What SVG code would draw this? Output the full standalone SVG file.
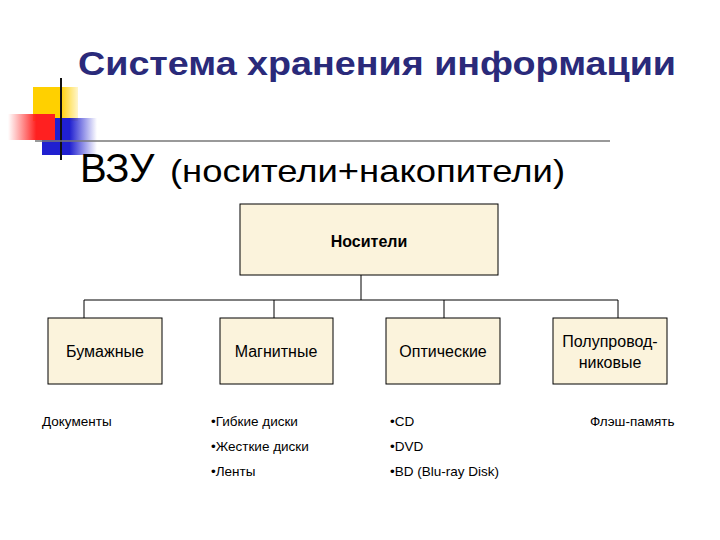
<svg xmlns="http://www.w3.org/2000/svg" width="720" height="540" viewBox="0 0 720 540">
<style>
.box{fill:#fbf3dc;stroke:#000;stroke-width:1}
.t{font-family:"Liberation Sans",Arial,sans-serif;font-size:16px;fill:#000;text-anchor:middle}
.s{font-family:"Liberation Sans",Arial,sans-serif;font-size:13.5px;fill:#000}
.c{stroke:#000;stroke-width:1;fill:none}
</style>
<defs>
<linearGradient id="rg" x1="0" x2="1"><stop offset="0" stop-color="#ff3030" stop-opacity="0"/><stop offset="0.6" stop-color="#ff2020"/></linearGradient>
<linearGradient id="bg" x1="0" x2="1"><stop offset="0.5" stop-color="#2020d0"/><stop offset="1" stop-color="#2020d0" stop-opacity="0"/></linearGradient>
<linearGradient id="yg" x1="0" x2="1"><stop offset="0.6" stop-color="#ffd000"/><stop offset="1" stop-color="#ffd000" stop-opacity="0.2"/></linearGradient>
</defs>
<rect width="720" height="540" fill="#fff"/>
<g id="deco">
<rect x="33" y="87" width="45" height="34" fill="url(#yg)"/>
<rect x="42" y="118" width="55" height="37" fill="url(#bg)"/>
<rect x="8" y="114" width="47" height="26" fill="url(#rg)"/>
<line x1="61" y1="78" x2="61" y2="160" stroke="#111" stroke-width="2"/>
<line x1="35" y1="141" x2="610" y2="141" stroke="#777" stroke-width="1.5"/>
</g>
<text x="78" y="75" font-family="Liberation Sans,Arial,sans-serif" font-weight="bold" font-size="33" fill="#2a2a7a" textLength="598" lengthAdjust="spacingAndGlyphs">Система хранения информации</text>
<text x="80" y="182" font-family="Liberation Sans,Arial,sans-serif" font-size="40" fill="#000">ВЗУ</text>
<text x="170" y="182" font-family="Liberation Sans,Arial,sans-serif" font-size="32" fill="#000" textLength="395" lengthAdjust="spacingAndGlyphs">(носители+накопители)</text>
<g id="connectors">
<path class="c" d="M361 275V300M84 300H618M84 300V318M274 300V318M444 300V318M618 300V318"/>
</g>
<g id="n0"><rect class="box" x="240" y="204" width="258" height="71"/><text class="t" x="369" y="247" font-weight="bold" font-size="18.5">Носители</text></g>
<g id="n1"><rect class="box" x="48" y="318" width="114" height="66"/><text class="t" x="105" y="357">Бумажные</text></g>
<g id="n2"><rect class="box" x="220" y="318" width="113" height="66"/><text class="t" x="276" y="357">Магнитные</text></g>
<g id="n3"><rect class="box" x="386" y="318" width="114" height="66"/><text class="t" x="443" y="357">Оптические</text></g>
<g id="n4"><rect class="box" x="553" y="318" width="114" height="66"/><text class="t" x="610" y="347">Полупровод-</text><text class="t" x="610" y="368">никовые</text></g>
<g id="lists">
<text class="s" x="42" y="426">Документы</text>
<text class="s" x="211" y="426">•Гибкие диски</text>
<text class="s" x="211" y="451">•Жесткие диски</text>
<text class="s" x="211" y="476">•Ленты</text>
<text class="s" x="390" y="426">•CD</text>
<text class="s" x="390" y="451">•DVD</text>
<text class="s" x="390" y="476">•BD (Blu-ray Disk)</text>
<text class="s" x="590" y="426">Флэш-память</text>
</g>
</svg>
